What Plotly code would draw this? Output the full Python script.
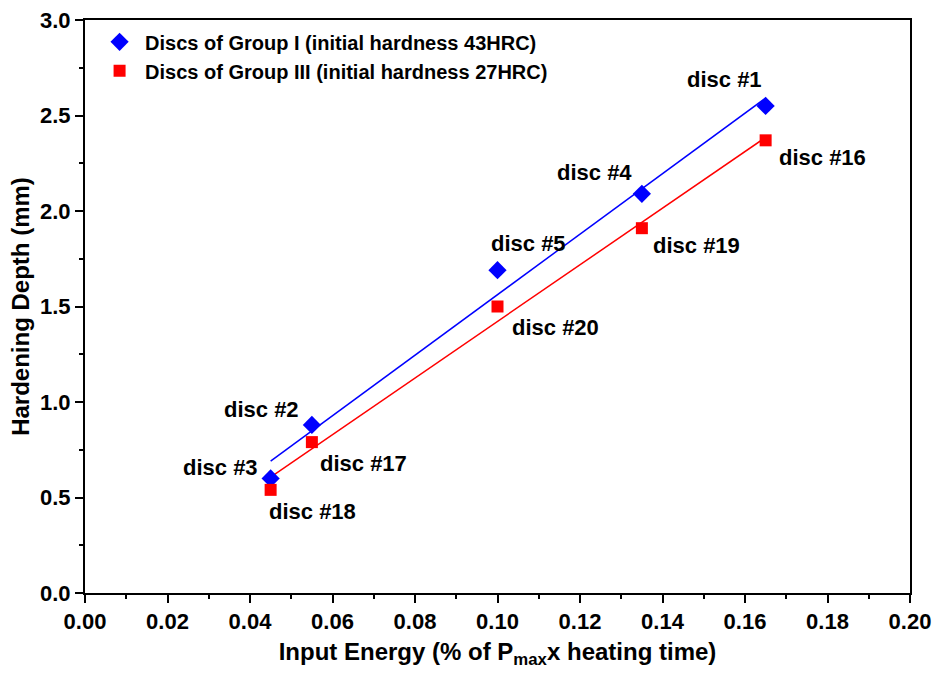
import numpy as np
import plotly.graph_objects as go

energy = [0.045, 0.055, 0.100, 0.135, 0.165]
depth_g1 = [0.60, 0.88, 1.69, 2.09, 2.55]
depth_g3 = [0.54, 0.79, 1.50, 1.91, 2.37]
labels_g1 = ["disc #3", "disc #2", "disc #5", "disc #4", "disc #1"]
labels_g3 = ["disc #18", "disc #17", "disc #20", "disc #19", "disc #16"]
# label pixel offsets (dx, dy up)
off_g1 = [(-50, 11), (-50, 15), (31, 27), (-47, 21), (-41, 26)]
off_g3 = [(42, -22), (52, -21), (58, -21), (55, -17), (57, -17)]

x_ticks = [0.00, 0.02, 0.04, 0.06, 0.08, 0.10, 0.12, 0.14, 0.16, 0.18, 0.20]
x_ticklabels = ["0.00", "0.02", "0.04", "0.06", "0.08", "0.10", "0.12", "0.14", "0.16", "0.18", "0.20"]
y_ticks = [0.0, 0.5, 1.0, 1.5, 2.0, 2.5, 3.0]
y_ticklabels = ["0.0", "0.5", "1.0", "1.5", "2.0", "2.5", "3.0"]

FONT = "Liberation Sans, Arial, sans-serif"

fig = go.Figure()

x = np.array(energy)
xfit = np.array([min(energy), max(energy)])
for ys, col in [(depth_g1, "#0000ff"), (depth_g3, "#ff0000")]:
    k, b = np.polyfit(x, np.array(ys), 1)
    fig.add_trace(go.Scatter(x=xfit, y=k * xfit + b, mode="lines",
                             line=dict(color=col, width=1.5), showlegend=False,
                             hoverinfo="skip"))

fig.add_trace(go.Scatter(x=energy, y=depth_g1, mode="markers",
                         name="Discs of Group I (initial hardness 43HRC)",
                         marker=dict(symbol="diamond", size=14, color="#0000ff")))
fig.add_trace(go.Scatter(x=energy, y=depth_g3, mode="markers",
                         name="Discs of Group III (initial hardness 27HRC)",
                         marker=dict(symbol="square", size=12, color="#ff0000")))

for xs, ys, labs, offs in [(energy, depth_g1, labels_g1, off_g1),
                           (energy, depth_g3, labels_g3, off_g3)]:
    for xi, yi, lab, (dx, dy) in zip(xs, ys, labs, offs):
        fig.add_annotation(x=xi, y=yi, text="<b>%s</b>" % lab, showarrow=False,
                           xshift=dx, yshift=dy,
                           font=dict(family=FONT, size=22, color="black"))

axis_common = dict(showline=True, linecolor="black", linewidth=2, mirror=True,
                   ticks="outside", ticklen=8, tickwidth=2, tickcolor="black",
                   showgrid=False, zeroline=False, automargin=False,
                   tickfont=dict(family=FONT, size=22, color="black", weight="bold"))

fig.update_xaxes(range=[0, 0.20], tickmode="array", tickvals=x_ticks,
                 ticktext=["<b>%s</b>" % t for t in x_ticklabels],
                 minor=dict(ticks="outside", ticklen=4, tickwidth=2, dtick=0.01, tickcolor="black"),
                 title=dict(text="<b>Input Energy (% of P<sub>max</sub>x heating time)</b>",
                            font=dict(family=FONT, size=24, color="black"), standoff=10),
                 **axis_common)
fig.update_yaxes(range=[0, 3.0], tickmode="array", tickvals=y_ticks,
                 ticktext=["<b>%s</b>" % t for t in y_ticklabels],
                 minor=dict(ticks="outside", ticklen=4, tickwidth=2, dtick=0.25, tickcolor="black"),
                 title=dict(text="<b>Hardening Depth (mm)</b>",
                            font=dict(family=FONT, size=24, color="black"), standoff=4),
                 **axis_common)

fig.update_layout(
    width=936, height=677,
    margin=dict(l=85, r=26, t=20, b=84),
    plot_bgcolor="white", paper_bgcolor="white",
    legend=dict(x=0.011, y=0.996, xanchor="left", yanchor="top", itemwidth=41,
                bgcolor="rgba(0,0,0,0)", tracegroupgap=0,
                font=dict(family=FONT, size=20, color="black", weight="bold")),
)

fig.write_html("out.html")
